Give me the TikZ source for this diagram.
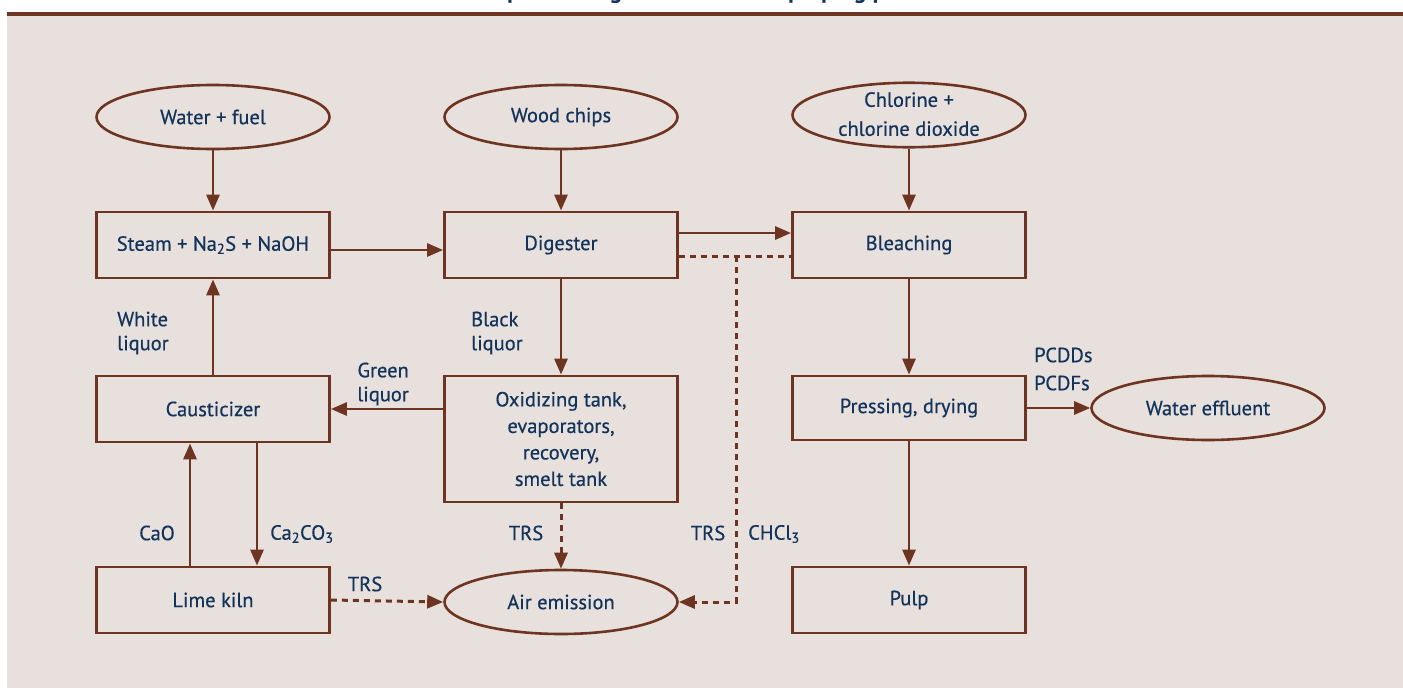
\documentclass[tikz,border=0pt]{standalone}
\usepackage{fontspec}
\setmainfont{PT Sans}
\newfontfamily\df{PT Sans}[FakeBold=0.5]
\newfontfamily\tf{PT Sans Bold}
\usetikzlibrary{shapes.geometric,arrows.meta}
\definecolor{bgc}{HTML}{E8E0DC}
\definecolor{brn}{HTML}{6E3422}
\definecolor{txt}{HTML}{12335A}
\tikzset{
  every node/.style={text=txt,font=\df\fontsize{20.5}{26.5}\selectfont},
  boxn/.style={draw=brn,line width=2.8pt,rectangle,minimum width=233pt,minimum height=66pt,inner sep=0pt,align=center},
  elln/.style={draw=brn,line width=2.6pt,ellipse,minimum width=233pt,minimum height=64pt,inner sep=0pt,align=center},
  arr/.style={draw=brn,line width=2.8pt,-{Triangle[length=16pt,width=13pt]}},
  dline/.style={draw=brn,line width=3pt,dash pattern=on 6pt off 5pt},
  darr/.style={dline,-{Triangle[length=16pt,width=13pt]}},
  lbl/.style={inner sep=0pt,align=left,font=\df\fontsize{20.5}{24}\selectfont}
}
\begin{document}
\begin{tikzpicture}[x=1pt,y=-1pt]
\useasboundingbox (0,0) rectangle (1403,688);
\clip (0,0) rectangle (1403,688);
\fill[bgc] (7,15.5) rectangle (1403,688);
\fill[brn] (7,11.5) rectangle (1403,15.8);
\node[anchor=base,font=\tf\fontsize{24}{26}\selectfont,inner sep=0pt] (title) at (709,-1.5) {Simplified diagram of the kraft pulping process};

\node[elln] (wf) at (213,117) {Water + fuel};
\node[elln] (wc) at (561,117) {Wood chips};
\node[elln,font=\df\fontsize{20.5}{29}\selectfont] (cl) at (909,115) {\raisebox{2pt}{Chlorine +}\\\raisebox{2pt}{chlorine dioxide}};
\node[boxn] (st) at (213,245) {Steam + Na\textsubscript{2}S + NaOH};
\node[boxn] (dg) at (561,245) {Digester};
\node[boxn] (bl) at (909,245) {Bleaching};
\node[boxn] (ca) at (213,409) {Causticizer};
\node[boxn,minimum height=126pt] (ox) at (561,439) {Oxidizing tank,\\evaporators,\\recovery,\\smelt tank};
\node[boxn,minimum height=64pt] (pd) at (909,408) {Pressing, drying};
\node[elln] (we) at (1208,408) {Water effluent};
\node[boxn] (lk) at (213,600) {Lime kiln};
\node[elln] (ae) at (561,602) {Air emission};
\node[boxn] (pu) at (909,600) {Pulp};

\draw[arr] (wf) -- (st);
\draw[arr] (wc) -- (dg);
\draw[arr] (cl) -- (bl);
\draw[arr] ([yshift=-5pt]st.east) -- ([yshift=-5pt]dg.west);
\draw[arr] ([yshift=12pt]dg.east) -- ([yshift=12pt]bl.west);
\draw[dline] ([yshift=-11pt]dg.east) -- ([yshift=-11pt]bl.west);
\coordinate (j) at (736,256);
\draw[darr] (j) |- (ae.east);
\draw[arr] (dg) -- (ox);
\draw[arr] (ox.west |- ca.east) -- (ca.east);
\draw[arr] (ca) -- (st);
\draw[arr] ([xshift=44pt]ca.south) -- ([xshift=44pt]lk.north);
\draw[arr] ([xshift=-23pt]lk.north) -- ([xshift=-23pt]ca.south);
\draw[darr] (ox) -- (ae);
\draw[darr] (lk.east) -- (ae.west);
\draw[arr] (bl) -- (pd);
\draw[arr] (pd.east) -- (we.west);
\draw[arr] (pd) -- (pu);

\node[lbl,anchor=west] (wl) at (117,333) {White\\liquor};
\node[lbl,anchor=west] (bkl) at (471,333) {Black\\liquor};
\node[lbl,anchor=east,align=right] (gl) at (409,384) {Green\\liquor};
\node[lbl] (cao) at (157,533) {CaO};
\node[lbl,anchor=west] (cc) at (270,534) {Ca\textsubscript{2}CO\textsubscript{3}};
\node[lbl] (t1) at (526,533) {TRS};
\node[lbl] (t2) at (365,584) {TRS};
\node[lbl] (t3) at (708,533) {TRS};
\node[lbl,anchor=west] (chc) at (748,534) {CHCl\textsubscript{3}};
\node[lbl,anchor=west,font=\df\fontsize{20.5}{28}\selectfont] (pc) at (1034,369) {PCDDs\\PCDFs};
\end{tikzpicture}
\end{document}
